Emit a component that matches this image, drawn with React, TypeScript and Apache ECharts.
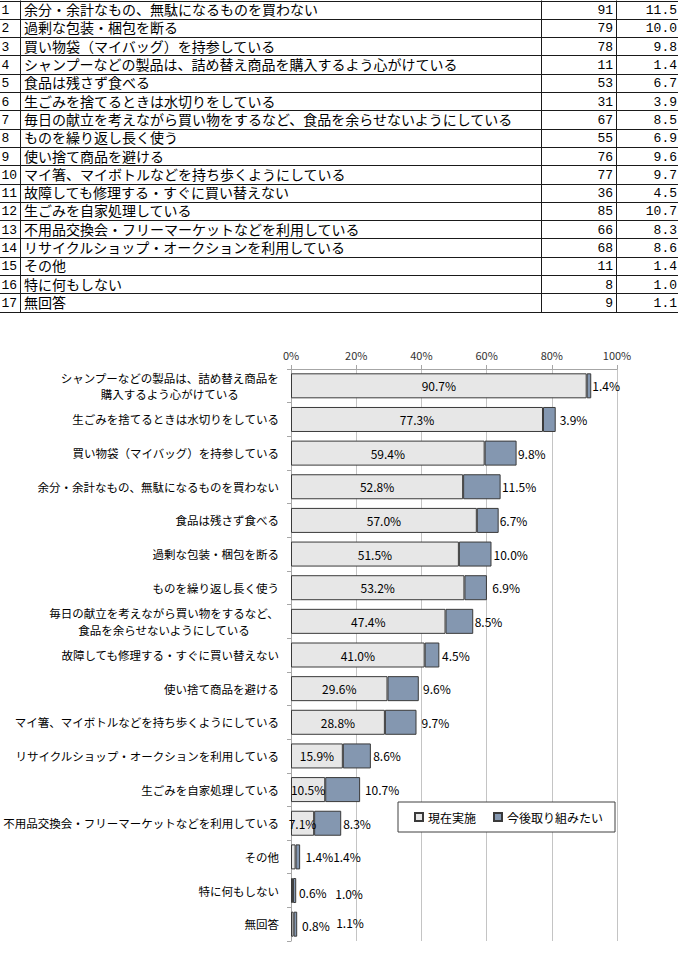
import React, { useEffect, useRef } from 'react';
import * as echarts from 'echarts';

// ---- table data ----
const tableNumbers = [1, 2, 3, 4, 5, 6, 7, 8, 9, 10, 11, 12, 13, 14, 15, 16, 17];
const tableItems = [
  '余分・余計なもの、無駄になるものを買わない',
  '過剰な包装・梱包を断る',
  '買い物袋（マイバッグ）を持参している',
  'シャンプーなどの製品は、詰め替え商品を購入するよう心がけている',
  '食品は残さず食べる',
  '生ごみを捨てるときは水切りをしている',
  '毎日の献立を考えながら買い物をするなど、食品を余らせないようにしている',
  'ものを繰り返し長く使う',
  '使い捨て商品を避ける',
  'マイ箸、マイボトルなどを持ち歩くようにしている',
  '故障しても修理する・すぐに買い替えない',
  '生ごみを自家処理している',
  '不用品交換会・フリーマーケットなどを利用している',
  'リサイクルショップ・オークションを利用している',
  'その他',
  '特に何もしない',
  '無回答',
];
const tableCounts = [91, 79, 78, 11, 53, 31, 67, 55, 76, 77, 36, 85, 66, 68, 11, 8, 9];
const tablePercents = [11.5, 10.0, 9.8, 1.4, 6.7, 3.9, 8.5, 6.9, 9.6, 9.7, 4.5, 10.7, 8.3, 8.6, 1.4, 1.0, 1.1];

// ---- chart data ----
const categories = [
  'シャンプーなどの製品は、詰め替え商品を\n購入するよう心がけている',
  '生ごみを捨てるときは水切りをしている',
  '買い物袋（マイバッグ）を持参している',
  '余分・余計なもの、無駄になるものを買わない',
  '食品は残さず食べる',
  '過剰な包装・梱包を断る',
  'ものを繰り返し長く使う',
  '毎日の献立を考えながら買い物をするなど、\n食品を余らせないようにしている',
  '故障しても修理する・すぐに買い替えない',
  '使い捨て商品を避ける',
  'マイ箸、マイボトルなどを持ち歩くようにしている',
  'リサイクルショップ・オークションを利用している',
  '生ごみを自家処理している',
  '不用品交換会・フリーマーケットなどを利用している',
  'その他',
  '特に何もしない',
  '無回答',
];
const currentValues = [90.7, 77.3, 59.4, 52.8, 57.0, 51.5, 53.2, 47.4, 41.0, 29.6, 28.8, 15.9, 10.5, 7.1, 1.4, 0.6, 0.8];
const futureValues = [1.4, 3.9, 9.8, 11.5, 6.7, 10.0, 6.9, 8.5, 4.5, 9.6, 9.7, 8.6, 10.7, 8.3, 1.4, 1.0, 1.1];
const seriesNames = ['現在実施', '今後取り組みたい'];
const xTicks = [0, 20, 40, 60, 80, 100];

// ---- label placement (style only) ----
const futureLabelGap = [1, 4, 1.3, 1.3, 1, 2, 5.4, 1.4, 2.7, 4.3, 5, 2.3, 4.8, 2, 33, 39, 39];
const futureLabelDy = [0, 0, 0, 0, 0, 0, 0, 0, 0, 0, 0, 0, 0, 0, 0, 3, -1.5];
// rows whose current-value label sits outside the bar: index -> [gap, dy]
const currentOutside: Record<number, [number, number]> = { 14: [10, 0], 15: [6, 2], 16: [8.5, 1] };

const FONT = "'Noto Sans CJK JP', 'Noto Sans', sans-serif";
const MONO = "'Liberation Mono', 'DejaVu Sans Mono', monospace";

export default function App() {
  const ref = useRef<HTMLDivElement>(null);

  useEffect(() => {
    document.body.style.margin = '0';
    const chart = echarts.init(ref.current!, null, { renderer: 'svg' });

    // table graphics
    const ROW_H = 18.3;
    const TOP = 0.5;
    const n = tableItems.length;
    const bottom = TOP + ROW_H * n;
    const graphics: any[] = [];
    for (let i = 0; i <= n; i++) {
      const y = Math.round(TOP + ROW_H * i) + 0.5;
      graphics.push({
        type: 'line', silent: true,
        shape: { x1: 0, y1: y, x2: 678, y2: y },
        style: { stroke: '#1a1a1a', lineWidth: 1 },
      });
    }
    [20.5, 541.5, 616.5].forEach((x) => {
      graphics.push({
        type: 'line', silent: true,
        shape: { x1: x, y1: TOP, x2: x, y2: Math.round(bottom) + 0.5 },
        style: { stroke: '#1a1a1a', lineWidth: 1 },
      });
    });
    const txt = (x: number, y: number, s: string, align: string, font: string, size: number) => ({
      type: 'text', silent: true, x, y,
      style: {
        text: s, fontSize: size, fontFamily: font, fill: '#000',
        align, textAlign: align, verticalAlign: 'middle', textVerticalAlign: 'middle',
      },
    });
    tableItems.forEach((t, i) => {
      const cy = TOP + ROW_H * (i + 0.5) + 0.5;
      graphics.push(txt(1.5, cy + 0.5, String(tableNumbers[i]), 'left', MONO, 13));
      graphics.push(txt(24, cy - 1, t, 'left', FONT, 14));
      graphics.push(txt(613, cy + 0.5, String(tableCounts[i]), 'right', MONO, 13));
      graphics.push(txt(677, cy + 0.5, tablePercents[i].toFixed(1), 'right', MONO, 13));
    });

    // rich styles for two-line category labels (centered lines)
    const LABEL_SIZE = 11.5;
    const LINE_H = 16.5;
    const rich: any = {};
    categories.forEach((c, i) => {
      if (c.includes('\n')) {
        const maxLen = Math.max(...c.split('\n').map((s) => s.length));
        rich['m' + i] = {
          width: maxLen * LABEL_SIZE, align: 'center', fontSize: LABEL_SIZE,
          lineHeight: LINE_H, fontFamily: FONT, color: '#000',
        };
      }
    });

    const currentData = currentValues.map((v, i) => {
      const o = currentOutside[i];
      if (!o) return v;
      return {
        value: v,
        label: { position: 'right', distance: o[0], offset: [0, o[1]] },
      };
    });
    const futureData = futureValues.map((v, i) => ({
      value: v,
      label: { distance: futureLabelGap[i], offset: [0, futureLabelDy[i]] },
    }));

    const labelStyle = {
      show: true, fontSize: 12, fontFamily: FONT, color: '#000',
      formatter: (p: any) => Number(p.value).toFixed(1) + '%',
    };

    chart.setOption({
      animation: false,
      backgroundColor: '#fff',
      graphic: graphics,
      grid: { left: 291, right: 61, top: 369, bottom: 17, containLabel: false },
      legend: {
        data: seriesNames.map((name) => ({ name, icon: 'rect' })),
        left: 398, top: 802,
        orient: 'horizontal',
        itemWidth: 8, itemHeight: 8, itemGap: 17,
        padding: [9, 12, 9, 16],
        borderColor: '#404040', borderWidth: 1, backgroundColor: '#fff',
        textStyle: { fontSize: 12, fontFamily: FONT, color: '#000' },
      },
      xAxis: {
        type: 'value', position: 'top',
        min: 0, max: 100, interval: 20,
        axisLine: { show: true, lineStyle: { color: '#a6a6a6' } },
        axisTick: { show: true, length: 4, lineStyle: { color: '#a6a6a6' } },
        splitLine: { show: true, lineStyle: { color: '#c4c4c4', width: 1 } },
        axisLabel: {
          fontSize: 11, fontFamily: FONT, color: '#333', margin: 9,
          formatter: (v: number) => (xTicks.includes(v) ? v + '%' : ''),
        },
      },
      yAxis: {
        type: 'category', inverse: true, data: categories,
        axisLine: { show: true, lineStyle: { color: '#a6a6a6' } },
        axisTick: { show: true, length: 4, lineStyle: { color: '#a6a6a6' } },
        axisLabel: {
          fontSize: LABEL_SIZE, fontFamily: FONT, color: '#000', margin: 12,
          lineHeight: LINE_H, rich,
          formatter: (v: string, i: number) =>
            v.includes('\n') ? v.split('\n').map((s) => `{m${i}|${s}}`).join('\n') : v,
        },
      },
      series: [
        {
          name: seriesNames[0], type: 'bar', stack: 'total', barWidth: 25,
          itemStyle: { color: '#e7e7e7', borderColor: '#3a3a3a', borderWidth: 1 },
          label: { ...labelStyle, position: 'inside' },
          data: currentData,
        },
        {
          name: seriesNames[1], type: 'bar', stack: 'total', barWidth: 25,
          itemStyle: { color: '#8497b0', borderColor: '#3a3a3a', borderWidth: 1 },
          label: { ...labelStyle, position: 'right' },
          data: futureData,
        },
      ],
    });

    return () => chart.dispose();
  }, []);

  return <div ref={ref} style={{ width: 678, height: 958 }} />;
}
